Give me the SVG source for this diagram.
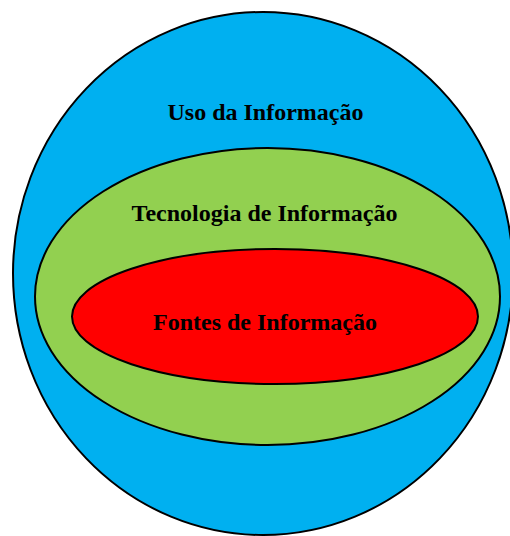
<svg xmlns="http://www.w3.org/2000/svg" width="510" height="536" viewBox="0 0 510 536">
<style>
.shape{stroke:#000;stroke-width:2}
.lbl{font-family:"Liberation Serif","Times New Roman",serif;font-weight:bold;font-size:24px;fill:#000;text-anchor:middle}
</style>
<rect width="510" height="536" fill="#fff"/>
<g id="uso">
<ellipse class="shape" cx="263" cy="273.5" rx="250" ry="261.5" fill="#00b0f0"/>
<text class="lbl" x="265.5" y="120">Uso da Informação</text>
</g>
<g id="tecnologia">
<ellipse class="shape" cx="267.5" cy="296.5" rx="232.5" ry="148.5" fill="#92d050"/>
<text class="lbl" x="264.5" y="221">Tecnologia de Informação</text>
</g>
<g id="fontes">
<ellipse class="shape" cx="275" cy="316.5" rx="203" ry="67.5" fill="#ff0000"/>
<text class="lbl" x="265" y="330">Fontes de Informação</text>
</g>
<g id="connectors"/>
</svg>
